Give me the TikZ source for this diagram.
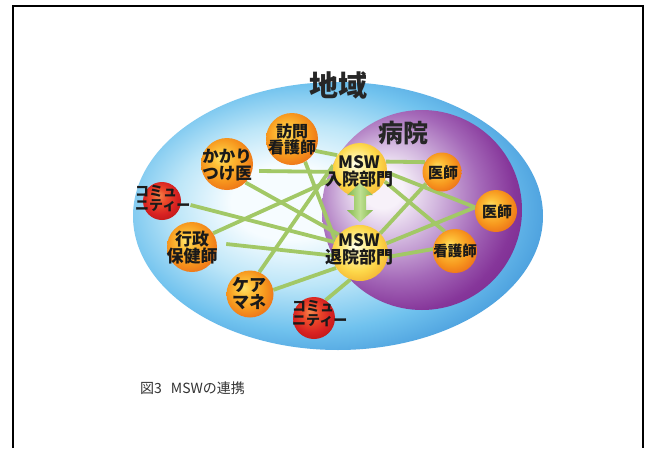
\documentclass[tikz,border=0pt]{standalone}
\usepackage{fontspec}
\newfontfamily\jp{Noto Sans CJK JP}
\usetikzlibrary{arrows.meta}
\pgfdeclarelayer{back}
\pgfdeclarelayer{mid}
\pgfsetlayers{back,mid,main}

\definecolor{oA}{HTML}{FFE36A}
\definecolor{oB}{HTML}{FDC13A}
\definecolor{oC}{HTML}{F7981E}
\definecolor{oD}{HTML}{EC6E18}
\definecolor{yA}{HTML}{FFFFF2}
\definecolor{yB}{HTML}{FFF2A0}
\definecolor{yC}{HTML}{FDD84A}
\definecolor{yD}{HTML}{F2B030}
\definecolor{rA}{HTML}{F5894E}
\definecolor{rB}{HTML}{EC4A2A}
\definecolor{rC}{HTML}{D82222}
\definecolor{rD}{HTML}{BE1818}
\definecolor{bA}{HTML}{F6FCFF}
\definecolor{bB}{HTML}{BDE6F8}
\definecolor{bC}{HTML}{70C2EE}
\definecolor{bD}{HTML}{4A9EDD}
\definecolor{bE}{HTML}{3880C8}
\definecolor{pA}{HTML}{F7F1F9}
\definecolor{pB}{HTML}{D3B8DF}
\definecolor{pC}{HTML}{A468B8}
\definecolor{pD}{HTML}{86369A}
\definecolor{pE}{HTML}{74258A}
\definecolor{linkgreen}{HTML}{A2C866}
\definecolor{arrowgreen}{HTML}{84B84E}
\definecolor{arrowlight}{HTML}{BFE092}
\definecolor{txt}{HTML}{1A1A1A}

\pgfdeclareradialshading{orangeball}{\pgfpoint{-7bp}{7bp}}{color(0bp)=(oA);color(8bp)=(oB);color(20bp)=(oC);color(31bp)=(oD);color(50bp)=(oD)}
\pgfdeclareradialshading{yellowball}{\pgfpoint{-5bp}{6bp}}{color(0bp)=(yA);color(8bp)=(yB);color(20bp)=(yC);color(31bp)=(yD);color(50bp)=(yD)}
\pgfdeclareradialshading{redball}{\pgfpoint{-5bp}{8bp}}{color(0bp)=(rA);color(10bp)=(rB);color(22bp)=(rC);color(31bp)=(rD);color(50bp)=(rD)}
\pgfdeclareradialshading{bluearea}{\pgfpoint{-7bp}{3bp}}{color(0bp)=(bA);color(7bp)=(bA);color(15bp)=(bB);color(23bp)=(bC);color(29bp)=(bD);color(35bp)=(bE);color(50bp)=(bE)}
\pgfdeclareradialshading{purplearea}{\pgfpoint{-11bp}{6bp}}{color(0bp)=(pA);color(5bp)=(pA);color(12bp)=(pB);color(21bp)=(pC);color(28bp)=(pD);color(35bp)=(pE);color(50bp)=(pE)}

\tikzset{
  ball/.style={circle, inner sep=0pt, draw=none, shade},
  oball/.style={ball, shading=orangeball},
  yball/.style={ball, shading=yellowball},
  rball/.style={ball, shading=redball},
  lbl/.style={font=\jp\bfseries\fontsize{#1}{#1}\selectfont, text=txt, align=center, inner sep=0pt},
  lbl/.default=16pt,
  lbll/.style={lbl=#1, align=left},
  link/.style={draw=linkgreen, line width=3.8pt},
  dblarrow/.style={left color=arrowgreen, right color=arrowgreen, middle color=arrowlight},
}

\begin{document}
\begin{tikzpicture}[x=1pt,y=-1pt]
\useasboundingbox (0,0) rectangle (649,448);

\begin{pgfonlayer}{back}
  \fill[white] (0,0) rectangle (649,448);
  \shade[shading=bluearea] (338,216) ellipse [x radius=205, y radius=134];
  \shade[shading=purplearea] (422,210) circle [radius=100];
\end{pgfonlayer}

% frame
\draw[line width=2pt, line cap=butt] (13,448) -- (13,6) -- (643,6) -- (643,448);

% titles
\node[lbl=29pt, text=black!85] (chiiki) at (338,85) {地域};
\node[lbl=25pt, text=black!85] (byoin) at (403,133) {病院};

% balls
\node[oball, minimum size=52pt] (hpn) at (292,139) {};
\node[oball, minimum size=52pt] (kak) at (227,164) {};
\node[rball, minimum size=38pt] (com1) at (162,201) {};
\node[oball, minimum size=50pt] (gyo) at (192,247) {};
\node[oball, minimum size=47pt] (cm) at (250,294) {};
\node[rball, minimum size=42pt] (com2) at (314,318) {};
\node[yball, minimum size=54pt] (msw1) at (360,170) {};
\node[yball, minimum size=56pt] (msw2) at (360,253) {};
\node[oball, minimum size=39pt] (doc1) at (442,172) {};
\node[oball, minimum size=42pt] (doc2) at (496,211) {};
\node[oball, minimum size=44pt] (nur) at (455,251) {};

% labels
\node[lbl=16pt] (hpnt) at (292,139) {訪問\\看護師};
\node[lbl=16.5pt] (kakt) at (227,165) {かかり\\つけ医};
\node[lbll=14pt, anchor=west] (com1t) at (135,199) {コミュ\\ニティー};
\node[lbl=17pt] (gyot) at (192,248) {行政\\保健師};
\node[lbll=17pt] (cmt) at (249,294) {ケア\\マネ};
\node[lbll=14pt, anchor=west] (com2t) at (292,314) {コミュ\\ニティー};
\node[lbl=17pt] (msw1t) at (359,171) {MSW\\入院部門};
\node[lbl=17pt] (msw2t) at (359,249) {MSW\\退院部門};
\node[lbl=15pt] (doc1t) at (443,173) {医師};
\node[lbl=15pt] (doc2t) at (497,212) {医師};
\node[lbl=14.5pt] (nurt) at (455,251) {看護師};

% connectors
\begin{pgfonlayer}{mid}
  \draw[link] (hpn.333) -- (msw1.147);
  \draw[link] (hpn.300) -- (msw2.152);
  \draw[link] ([xshift=6pt,yshift=-7pt]kak.east) -- (msw1.184);
  \draw[link] (kak.315) -- (msw2.139);
  \draw[link] ([yshift=-6pt]com1t.east) -- (msw2.157);
  \draw[link] (gyo.33) -- (msw1.198);
  \draw[link] ([xshift=9pt,yshift=3pt]gyo.east) -- (msw2.185);
  \draw[link] (cm.67) -- (msw1.170);
  \draw[link] (cm.10) -- (msw2.212);
  \draw[link] (com2.57) -- (msw2.250);
  \draw[link] (msw1.18) -- (doc1.150);
  \draw[link] (msw1.355) -- (doc2.170);
  \draw[link] (msw1.335) -- (nur.118);
  \draw[link] (msw2.44) -- (doc1.216);
  \draw[link] (msw2.20) -- (doc2.170);
  \draw[link] (msw2.352) -- (nur.175);
\end{pgfonlayer}

% double arrow between MSW units
\coordinate (atop) at ([yshift=14pt]msw1.south);
\shade[dblarrow] (atop) -- ++(13,12) -- ++(-7,0) -- ++(0,15) -- ++(7,0)
  -- ++(-13,12) -- ++(-13,-12) -- ++(7,0) -- ++(0,-15) -- ++(-7,0) -- cycle;

% caption
\node[font=\jp\fontsize{14pt}{14pt}\selectfont, text=black!80, anchor=base west, inner sep=0pt] (cap) at (140,393) {図3\hspace{9pt}MSWの連携};
\end{tikzpicture}
\end{document}
